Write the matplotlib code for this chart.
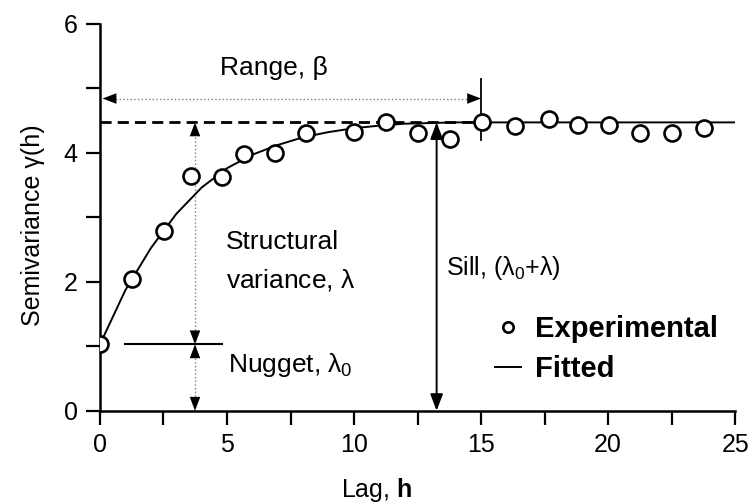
import matplotlib
matplotlib.use('Agg')
import matplotlib.pyplot as plt
from matplotlib.ticker import MultipleLocator

plt.rcParams['font.family'] = ['Liberation Sans', 'DejaVu Sans']
plt.rcParams['mathtext.fontset'] = 'custom'
plt.rcParams['mathtext.rm'] = 'Liberation Sans'
plt.rcParams['mathtext.it'] = 'Liberation Sans'
plt.rcParams['mathtext.bf'] = 'Liberation Sans:bold'

# experimental semivariogram
lag = [0, 1.25, 2.52, 3.58, 4.79, 5.68, 6.89, 8.1, 10.0, 11.26, 12.5,
       13.78, 15.03, 16.34, 17.69, 18.8, 20.05, 21.26, 22.53, 23.78]
gamma = [1.03, 2.05, 2.79, 3.64, 3.63, 3.98, 3.99, 4.31, 4.32, 4.48, 4.30,
         4.21, 4.47, 4.42, 4.52, 4.43, 4.43, 4.31, 4.31, 4.39]

# fitted model curve
fit_lag = [0, 1, 2, 3, 4, 5, 6, 7, 8, 9, 10, 11, 12, 13, 14, 15, 25]
fit_gamma = [1.03, 1.87, 2.52, 3.05, 3.46, 3.76, 3.97, 4.12, 4.24, 4.32,
             4.38, 4.42, 4.45, 4.46, 4.47, 4.47, 4.47]

nugget = 1.03
sill = 4.47
range_h = 15.0

fig = plt.figure(figsize=(7.54, 5.04), dpi=100)
ax = fig.add_axes([0.1326, 0.185, 0.8424, 0.768])

ax.plot(lag, gamma, 'o', ms=11.5, mfc='white', mec='black', mew=1.9,
        label='Experimental', zorder=4)
ax.plot(fit_lag, fit_gamma, '-', color='black', lw=1.4, label='Fitted', zorder=3)

# sill line
ax.plot([0, range_h], [sill, sill], '--', color='black', lw=2.0, dashes=(4, 2.2), zorder=2)

head = '<|-|>,head_length=1.0,head_width=0.38'

# range arrow
ry = 4.84
ax.plot([0.3, range_h - 0.4], [ry, ry], ':', color='0.5', lw=1.0)
ax.annotate('', xy=(0.1, ry), xytext=(range_h, ry),
            arrowprops=dict(arrowstyle=head, lw=0, color='black', shrinkA=0, shrinkB=0))
ax.plot([range_h, range_h], [4.2, 5.15], '-', color='black', lw=1.3)
ax.text(6.85, 5.31, 'Range, β', fontsize=19, ha='center', va='center')

# structural variance and nugget arrows
vx = 3.74
ax.plot([vx, vx], [0, sill], ':', color='0.5', lw=1.0)
ax.annotate('', xy=(vx, sill), xytext=(vx, nugget),
            arrowprops=dict(arrowstyle=head, lw=0, color='black', shrinkA=0, shrinkB=0))
ax.annotate('', xy=(vx, nugget), xytext=(vx, 0),
            arrowprops=dict(arrowstyle=head, lw=0, color='black', shrinkA=0, shrinkB=0))
ax.plot([0.98, 4.79], [nugget, nugget], '-', color='black', lw=1.5)
ax.text(4.96, 2.62, 'Structural', fontsize=19, ha='left', va='center')
ax.text(4.96, 2.03, 'variance, $\\lambda$', fontsize=19, ha='left', va='center')
ax.text(5.04, 0.71, 'Nugget, $\\lambda_0$', fontsize=19, ha='left', va='center')

# sill arrow
sx = 13.25
ax.annotate('', xy=(sx, sill), xytext=(sx, 0),
            arrowprops=dict(arrowstyle=head, lw=1.4, color='black', shrinkA=0, shrinkB=0))
ax.text(13.6, 2.21, 'Sill, ($\\lambda_0$+$\\lambda$)', fontsize=18, ha='left', va='center')

ax.set_xlim(0, 25)
ax.set_ylim(0, 6)
ax.xaxis.set_major_locator(MultipleLocator(5))
ax.xaxis.set_minor_locator(MultipleLocator(2.5))
ax.yaxis.set_major_locator(MultipleLocator(2))
ax.yaxis.set_minor_locator(MultipleLocator(1))
ax.tick_params(which='both', direction='out', length=10, width=1.6, labelsize=18, pad=6)
for s in ['top', 'right']:
    ax.spines[s].set_visible(False)
for s in ['left', 'bottom']:
    ax.spines[s].set_linewidth(1.8)

ax.set_xlabel('Lag, $\\mathbf{h}$', fontsize=18, va='center')
ax.xaxis.set_label_coords(0.436, -0.205)
ax.set_ylabel('Semivariance γ(h)', fontsize=18, va='center')
ax.yaxis.set_label_coords(-0.105, 0.48)

ax.legend(loc='upper left', bbox_to_anchor=(0.58, 0.315), frameon=False,
          prop={'size': 21, 'weight': 'bold'},
          handlelength=0.9, handletextpad=0.5, labelspacing=0.4, markerscale=0.65)

fig.savefig('out.png', dpi=100)
